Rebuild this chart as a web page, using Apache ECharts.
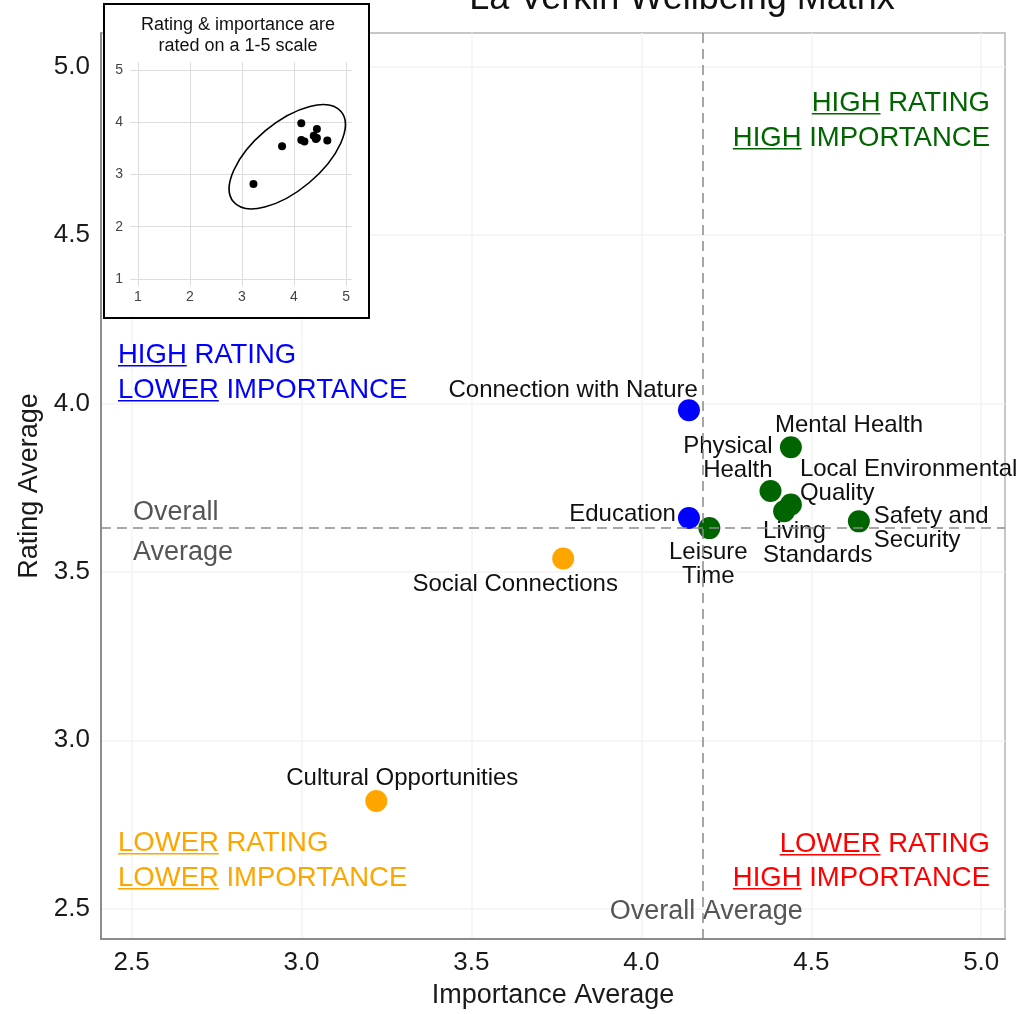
<!DOCTYPE html>
<html>
<head>
<meta charset="utf-8">
<title>La Verkin Wellbeing Matrix</title>
<script src="https://cdn.jsdelivr.net/npm/echarts@6/dist/echarts.min.js"></script>
<style>
  html, body { margin: 0; padding: 0; background: #fff; }
  #chart { width: 1016px; height: 1014px; }
</style>
</head>
<body>
<div id="chart"></div>
<script>
const domains = [
  "Connection with Nature", "Mental Health", "Physical\nHealth",
  "Local Environmental\nQuality", "Living\nStandards", "Safety and\nSecurity",
  "Education", "Leisure\nTime", "Social Connections", "Cultural Opportunities"
];
const importance = [4.14, 4.44, 4.38, 4.44, 4.42, 4.64, 4.14, 4.20, 3.77, 3.22];
const rating = [3.98, 3.87, 3.74, 3.70, 3.68, 3.65, 3.66, 3.63, 3.54, 2.82];
const quadrant = ["hl", "hh", "hh", "hh", "hh", "hh", "hl", "hh", "ll", "ll"];
const xTicks = [2.5, 3.0, 3.5, 4.0, 4.5, 5.0];
const yTicks = [2.5, 3.0, 3.5, 4.0, 4.5, 5.0];
const insetTicks = [1, 2, 3, 4, 5];
// data ellipse in the inset (centre, semi axes in data units, angle in degrees)
const ellipseCenter = [3.87, 3.34];
const ellipseAxes = [1.35, 0.65];
const ellipseAngle = 40;

const FONT = '"Liberation Sans", Arial, Helvetica, sans-serif';
const colors = { hh: "#006400", hl: "#0000ff", ll: "#ffa500", lh: "#ff0000" };

// label placement: [align, dx, dy] from point centre
const labelPos = {
  "Connection with Nature": ["right", 9, -20],
  "Mental Health": ["left", -16, -22],
  "Physical\nHealth": ["right", 2, -33],
  "Local Environmental\nQuality": ["left", 9, -23],
  "Living\nStandards": ["left", -21, 32],
  "Safety and\nSecurity": ["left", 15, 7],
  "Education": ["right", -13, -4],
  "Leisure\nTime": ["center", -1, 36],
  "Social Connections": ["center", -48, 26],
  "Cultural Opportunities": ["center", 26, -23]
};

const meanImp = importance.reduce((a, b) => a + b, 0) / importance.length;
const meanRat = rating.reduce((a, b) => a + b, 0) / rating.length;

const chart = echarts.init(document.getElementById("chart"));

const mainData = importance.map((v, i) => {
  const p = labelPos[domains[i]];
  return {
    name: domains[i],
    value: [v, rating[i]],
    itemStyle: { color: colors[quadrant[i]], opacity: 1 },
    label: { position: "inside", align: p[0], verticalAlign: "middle", offset: [p[1], p[2]] }
  };
});

chart.setOption({
  animation: false,
  backgroundColor: "#fff",
  grid: [
    { left: 101, top: 33, right: 11, bottom: 73, show: true, borderColor: "#b5b5b5", borderWidth: 1.5 },
    { left: 130, top: 62, width: 222, height: 224 }
  ],
  xAxis: [
    {
      type: "value", gridIndex: 0, min: 2.41, max: 5.07,
      name: "Importance Average", nameLocation: "middle", nameGap: 43,
      nameTextStyle: { fontSize: 27, color: "#1a1a1a", fontFamily: FONT },
      axisLine: { show: true, onZero: false, lineStyle: { color: "#8c8c8c", width: 2 } },
      axisTick: { show: false, customValues: xTicks },
      axisLabel: {
        customValues: xTicks, formatter: (v) => v.toFixed(1),
        fontSize: 26, color: "#1a1a1a", margin: 11, fontFamily: FONT
      },
      splitLine: { show: true, lineStyle: { color: "#f3f3f3", width: 1.5 } }
    },
    {
      type: "value", gridIndex: 1, min: 0.846, max: 5.115, zlevel: 1,
      axisLine: { show: false },
      axisTick: { show: false, customValues: insetTicks },
      axisLabel: { customValues: insetTicks, fontSize: 14, color: "#444", margin: 4, fontFamily: FONT },
      splitLine: { show: true, lineStyle: { color: "#dddddd", width: 1 } }
    }
  ],
  yAxis: [
    {
      type: "value", gridIndex: 0, min: 2.41, max: 5.10,
      name: "Rating Average", nameLocation: "middle", nameGap: 52,
      nameTextStyle: { fontSize: 27, color: "#1a1a1a", fontFamily: FONT },
      axisLine: { show: true, onZero: false, lineStyle: { color: "#8c8c8c", width: 2 } },
      axisTick: { show: false, customValues: yTicks },
      axisLabel: {
        customValues: yTicks, formatter: (v) => v.toFixed(1),
        fontSize: 26, color: "#1a1a1a", margin: 11, fontFamily: FONT
      },
      splitLine: { show: true, lineStyle: { color: "#f3f3f3", width: 1.5 } }
    },
    {
      type: "value", gridIndex: 1, min: 0.866, max: 5.153, zlevel: 1,
      axisLine: { show: false },
      axisTick: { show: false, customValues: insetTicks },
      axisLabel: { customValues: insetTicks, fontSize: 14, color: "#444", margin: 7, fontFamily: FONT },
      splitLine: { show: true, lineStyle: { color: "#dddddd", width: 1 } }
    }
  ],
  series: [
    {
      type: "scatter",
      xAxisIndex: 0, yAxisIndex: 0,
      symbolSize: 22,
      data: mainData,
      label: {
        show: true, formatter: "{b}", fontSize: 24, lineHeight: 24,
        color: "#111", fontFamily: FONT, opacity: 1,
        textBorderWidth: 0, textBorderColor: "transparent"
      },
      emphasis: { disabled: true },
      markLine: {
        silent: true, symbol: "none", label: { show: false },
        lineStyle: { type: [10, 6], color: "#8a8a8a", width: 1.5 },
        data: [{ xAxis: meanImp }, { yAxis: meanRat }]
      }
    },
    {
      type: "scatter",
      xAxisIndex: 1, yAxisIndex: 1, zlevel: 1,
      symbolSize: 8,
      itemStyle: { color: "#000", opacity: 1 },
      data: importance.map((v, i) => [v, rating[i]]),
      markLine: {
        silent: true, symbol: "none", label: { show: false },
        lineStyle: { type: [6, 4], color: "#999", width: 1 },
        data: [{ xAxis: meanImp }, { yAxis: meanRat }]
      }
    },
    {
      type: "custom",
      xAxisIndex: 1, yAxisIndex: 1, zlevel: 1,
      clip: false,
      data: [ellipseCenter],
      renderItem: function (params, api) {
        const c = api.coord([api.value(0), api.value(1)]);
        const s = api.size(ellipseAxes);
        return {
          type: "ellipse",
          x: c[0], y: c[1],
          rotation: ellipseAngle * Math.PI / 180,
          shape: { cx: 0, cy: 0, rx: s[0], ry: s[1] },
          style: { fill: "none", stroke: "#000", lineWidth: 1.6 }
        };
      }
    }
  ]
});

// annotations
const ctx = document.createElement("canvas").getContext("2d");
function textW(str, size) {
  ctx.font = size + "px " + FONT;
  return ctx.measureText(str).width;
}

function txt(id, x, y, text, size, color, align, extra) {
  return Object.assign({
    type: "text", id: id, x: x, y: y, silent: true,
    style: {
      text: text, fill: color, font: size + "px " + FONT,
      textAlign: align, align: align,
      textVerticalAlign: "middle", verticalAlign: "middle"
    }
  }, extra || {});
}

const quadLabels = [
  { color: colors.hh, align: "right", x: 990, lines: [["HIGH", " RATING", 103], ["HIGH", " IMPORTANCE", 138]] },
  { color: colors.hl, align: "left", x: 118, lines: [["HIGH", " RATING", 355], ["LOWER", " IMPORTANCE", 390]] },
  { color: colors.ll, align: "left", x: 118, lines: [["LOWER", " RATING", 843], ["LOWER", " IMPORTANCE", 878]] },
  { color: colors.lh, align: "right", x: 990, lines: [["LOWER", " RATING", 844], ["HIGH", " IMPORTANCE", 878]] }
];

const QS = 27.5;
const elements = [];
quadLabels.forEach((q, qi) => {
  q.lines.forEach((ln, li) => {
    const full = ln[0] + ln[1];
    const fw = textW(full, QS);
    const uw = textW(ln[0], QS);
    const x0 = q.align === "right" ? q.x - fw : q.x;
    elements.push(txt("q" + qi + li, x0, ln[2], full, QS, q.color, "left"));
    elements.push({
      type: "rect", id: "u" + qi + li, silent: true,
      shape: { x: x0, y: ln[2] + 10, width: uw, height: 1.6 },
      style: { fill: q.color }
    });
  });
});

const px = chart.convertToPixel({ gridIndex: 0 }, [meanImp, meanRat]);
elements.push(txt("ov1", 133, px[1] - 17, "Overall", 27, "#555", "left"));
elements.push(txt("ov2", 133, px[1] + 23, "Average", 27, "#555", "left"));
elements.push(txt("ov3", px[0] + 4, 912, "Overall Average", 27, "#555", "center"));

// title (cut off at the top edge)
elements.push(txt("title", 682, -1, "La Verkin Wellbeing Matrix", 36, "#111", "center"));

// inset box
elements.push({
  type: "rect", id: "insetBox", zlevel: 1, z: -10, silent: true,
  shape: { x: 104, y: 4, width: 265, height: 314 },
  style: { fill: "#fff", stroke: "#000", lineWidth: 2 }
});
elements.push(txt("it1", 238, 25, "Rating & importance are", 18, "#111", "center", { zlevel: 1, z: 5 }));
elements.push(txt("it2", 238, 46, "rated on a 1-5 scale", 18, "#111", "center", { zlevel: 1, z: 5 }));

chart.setOption({ graphic: { elements: elements } });
</script>
</body>
</html>
